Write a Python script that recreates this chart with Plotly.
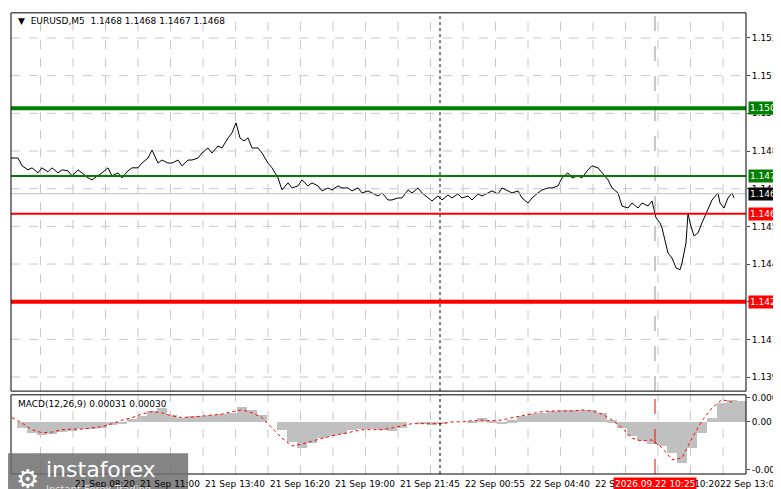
import plotly.graph_objects as go

# EURUSD M5 close prices, x = bar number
price_bars = [1,5,7,10,12,15,17,20,22,25,27,30,32,35,37,40,42,45,47,50,52,55,57,60,62,65,67,70,72,75,
              77,80,82,85,87,90,92,95,97,100,102,105,107,110,112,114,116,118,120,122,125,127,130,132,135,137,140,142,145,147,
              150,152,155,157,160,162,165,167,170,172,175,177,180,182,185,187,190,192,195,197,200,202,205,207,210,212,215,217,220,222,
              225,227,230,232,235,237,240,242,245,247,250,252,255,257,260,262,265,267,270,272,275,277,280,282,285,287,290,292,295,297,
              300,302,305,307,310,312,315,317,320,322,324,326,327,330,332,334,336,337,339,340,341,343,345,347,350,352,355,356,358,360,362,363]
price = [1.14822,1.14822,1.14791,1.14775,1.14783,1.14763,1.14783,1.14767,1.14783,1.14763,1.14775,1.14771,1.14751,1.14775,1.14763,1.14743,1.14735,1.14751,1.14763,1.14783,
         1.14751,1.14763,1.14743,1.14771,1.14783,1.14783,1.14802,1.14822,1.14854,1.14802,1.14814,1.14802,1.14802,1.14814,1.14791,1.14814,1.14814,1.14822,1.14842,1.14862,
         1.14842,1.14870,1.14862,1.14902,1.14922,1.14962,1.14902,1.14890,1.14902,1.14862,1.14862,1.14842,1.14802,1.14783,1.14743,1.14695,1.14723,1.14703,1.14711,1.14735,
         1.14711,1.14723,1.14711,1.14691,1.14703,1.14695,1.14711,1.14703,1.14703,1.14691,1.14703,1.14683,1.14691,1.14683,1.14671,1.14683,1.14655,1.14655,1.14663,1.14663,
         1.14695,1.14683,1.14703,1.14683,1.14663,1.14651,1.14671,1.14655,1.14675,1.14663,1.14679,1.14663,1.14671,1.14655,1.14679,1.14671,1.14683,1.14691,1.14679,1.14703,
         1.14691,1.14683,1.14691,1.14663,1.14643,1.14663,1.14683,1.14695,1.14703,1.14703,1.14711,1.14743,1.14763,1.14743,1.14751,1.14743,1.14775,1.14791,1.14783,1.14763,
         1.14735,1.14703,1.14683,1.14631,1.14623,1.14643,1.14623,1.14643,1.14631,1.14651,1.14584,1.14564,1.14544,1.14444,1.14424,1.14385,1.14377,1.14404,1.14484,1.14603,
         1.14564,1.14512,1.14524,1.14564,1.14623,1.14655,1.14683,1.14643,1.14623,1.14663,1.14683,1.14663]

# MACD histogram and signal (units of 1e-5), one value per 5 bars
macd_hist = [0,-10,-18,-22,-20,-17,-15,-12,-12,-10,-5,-2,5,10,18,23,12,7,10,10,
             12,13,15,25,20,12,0,-13,-33,-43,-35,-27,-23,-20,-13,-12,-12,-13,-15,-10,
             0,-3,-5,-3,0,0,2,7,2,-2,3,10,13,15,18,20,20,20,20,15,
             3,-10,-23,-32,-37,-40,-52,-68,-43,-18,7,32,37,35]
macd_signal = [7,-2,-13,-18,-17,-13,-12,-12,-10,-8,-3,3,7,13,17,15,10,7,8,10,
               12,13,17,20,15,7,-10,-27,-40,-37,-32,-27,-23,-20,-17,-13,-13,-13,-10,-7,
               -3,-3,-3,-3,0,0,2,3,2,3,7,10,13,17,18,18,18,20,18,13,
               3,-10,-27,-32,-30,-43,-63,-60,-27,2,23,37,33]

levels = [1.1502, 1.1475, 1.1460, 1.1425]
level_colors = ["#008000", "#008000", "#ff0000", "#ff0000"]
level_widths = [4, 2, 2, 4]
last_price = 1.1468

price_ticks = [1.1530, 1.1515, 1.1500, 1.1485, 1.1470, 1.1455, 1.1440, 1.1425, 1.1410, 1.1395]
time_labels = ["21 Sep 2026", "21 Sep 08:20", "21 Sep 11:00", "21 Sep 13:40", "21 Sep 16:20", "21 Sep 19:00",
               "21 Sep 21:45", "22 Sep 00:55", "22 Sep 04:40", "22 Sep 07:45", "22 Sep 10:20", "22 Sep 13:00"]
time_label_bars = [0, 32.5, 65, 97.5, 130, 162.5, 195, 227.5, 260, 292.5, 325, 355]
grid_bars = [16.25 * i for i in range(1, 23)]
dotted_bar = 216
cursor_bar = 323.5
cursor_label = "2026.09.22 10:25"

FONT = "DejaVu Sans"
XR = [1.5, 369]

fig = go.Figure()
fig.add_trace(go.Scatter(x=price_bars, y=price, mode="lines", line=dict(color="black", width=1),
                         xaxis="x", yaxis="y", showlegend=False))
macd_x = [2 + 5 * i for i in range(len(macd_hist))]
fig.add_trace(go.Bar(x=macd_x, y=[v * 1e-5 for v in macd_hist], width=5, marker=dict(color="#c0c0c0", line_width=0),
                     xaxis="x2", yaxis="y2", showlegend=False))
fig.add_trace(go.Scatter(x=macd_x[:len(macd_signal)], y=[v * 1e-5 for v in macd_signal], mode="lines",
                         line=dict(color="#ff0000", width=1, dash="dot"), xaxis="x2", yaxis="y2", showlegend=False))

shapes = []
ann = []
for g in grid_bars:
    for xa, ya in (("x", "y"), ("x2", "y2")):
        shapes.append(dict(type="line", xref=xa, yref=ya + " domain", x0=g, x1=g, y0=0, y1=1,
                           line=dict(color="#c8c8c8", width=1, dash="dash"), layer="below"))
for t in price_ticks:
    shapes.append(dict(type="line", xref="x domain", yref="y", x0=0, x1=1, y0=t, y1=t,
                       line=dict(color="#c8c8c8", width=1, dash="dash"), layer="below"))
for xa, ya in (("x", "y"), ("x2", "y2")):
    shapes.append(dict(type="line", xref=xa, yref=ya + " domain", x0=dotted_bar, x1=dotted_bar, y0=0, y1=1,
                       line=dict(color="black", width=1, dash="dot")))
shapes.append(dict(type="line", xref="x", yref="y domain", x0=cursor_bar, x1=cursor_bar, y0=0, y1=1,
                   line=dict(color="#909090", width=1, dash="longdash")))
shapes.append(dict(type="line", xref="x2", yref="y2 domain", x0=cursor_bar, x1=cursor_bar, y0=0, y1=1,
                   line=dict(color="#ff0000", width=1, dash="longdash")))
shapes.append(dict(type="line", xref="x domain", yref="y", x0=0, x1=1, y0=last_price, y1=last_price,
                   line=dict(color="#c0c0c0", width=1)))
for lv, c, w in zip(levels, level_colors, level_widths):
    shapes.append(dict(type="line", xref="x domain", yref="y", x0=0, x1=1, y0=lv, y1=lv, line=dict(color=c, width=w)))
    ann.append(dict(x=1.003, xref="paper", y=lv, yref="y", text=f"{lv:.4f}", showarrow=False, xanchor="left",
                    bgcolor=c, font=dict(color="white", size=9, family=FONT), borderpad=1))
ann.append(dict(x=1.003, xref="paper", y=last_price, yref="y", text=f"{last_price:.4f}", showarrow=False,
                xanchor="left", bgcolor="black", font=dict(color="white", size=9, family=FONT), borderpad=1))
# frames
for y0, y1 in ((0.179, 0.996), (0.0, 0.171)):
    shapes.append(dict(type="rect", xref="paper", yref="paper", x0=0, x1=1, y0=y0, y1=y1,
                       line=dict(color="black", width=1)))
# time labels
for lab, b in zip(time_labels, time_label_bars):
    ann.append(dict(x=b, xref="x2", y=-0.006, yref="paper", text=lab, showarrow=False, xanchor="left",
                    yanchor="top", font=dict(size=9, family=FONT, color="black")))
ann.append(dict(x=cursor_bar, xref="x2", y=-0.006, yref="paper", text=cursor_label, showarrow=False,
                yanchor="top", bgcolor="#ff0000", font=dict(size=9, family=FONT, color="white")))
# logo
shapes.append(dict(type="rect", xref="paper", yref="paper", x0=-0.004, x1=0.241, y0=-0.05, y1=0.045,
                   fillcolor="rgba(110,110,110,0.85)", line_width=0))
ann.append(dict(x=0.045, xref="paper", y=0.01, yref="paper", text="instaforex", showarrow=False, xanchor="left",
                yanchor="middle", font=dict(size=22, family=FONT, color="white")))
ann.append(dict(x=0.045, xref="paper", y=-0.033, yref="paper", text="Instant Forex Trading", showarrow=False,
                xanchor="left", yanchor="middle", font=dict(size=10, family=FONT, color="#e0e0e0")))
ann.append(dict(x=0.004, xref="paper", y=-0.048, yref="paper", text="⚙", showarrow=False, xanchor="left",
                yanchor="bottom", font=dict(size=26, family=FONT, color="white")))
ann.append(dict(x=0.007, xref="paper", y=0.993, yref="paper", text="▼  EURUSD,M5  1.1468 1.1468 1.1467 1.1468",
                showarrow=False, xanchor="left", yanchor="top", font=dict(size=9, family=FONT, color="black")))
ann.append(dict(x=0.007, xref="paper", y=0.166, yref="paper", text="MACD(12,26,9) 0.00031 0.00030",
                showarrow=False, xanchor="left", yanchor="top", font=dict(size=9, family=FONT, color="black")))

axfont = dict(size=9, family=FONT, color="black")
fig.update_layout(
    width=781, height=489, margin=dict(l=3, r=43, t=3, b=23, autoexpand=False),
    paper_bgcolor="white", plot_bgcolor="white", bargap=0,
    xaxis=dict(domain=[0, 1], range=XR, showgrid=False, showticklabels=False, zeroline=False, anchor="y"),
    xaxis2=dict(domain=[0, 1], range=XR, showgrid=False, showticklabels=False, zeroline=False, anchor="y2"),
    yaxis=dict(domain=[0.179, 0.996], range=[1.13894, 1.1540], side="right", tickvals=price_ticks,
               ticktext=[f"{t:.4f}" for t in price_ticks], showgrid=False, zeroline=False, automargin=False,
               ticks="outside", ticklen=3, tickfont=axfont, anchor="x"),
    yaxis2=dict(domain=[0.0, 0.171], range=[-0.000867, 0.00045], side="right",
                tickvals=[0.0004, 0.0, -0.0008], ticktext=["0.0004", "0.00", "-0.0008"], automargin=False,
                showgrid=False, zeroline=False, ticks="outside", ticklen=3, tickfont=axfont, anchor="x2"),
    shapes=shapes, annotations=ann,
)
fig.write_html("out.html")
